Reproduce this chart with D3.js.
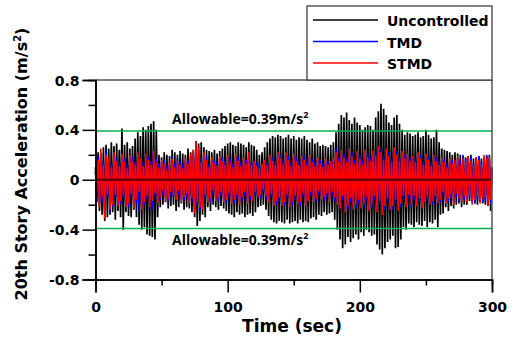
<!DOCTYPE html>
<html>
<head>
<meta charset="utf-8">
<script src="https://cdn.jsdelivr.net/npm/d3@7"></script>
<style>
  body { margin: 0; background: #fff; }
  svg { display: block; }
  .tick text { font-family: "DejaVu Sans", sans-serif; font-weight: bold; font-size: 14px; fill: #000; }
  .title { font-family: "DejaVu Sans", sans-serif; font-weight: bold; fill: #000; }
  .allow { font-family: "Open Sans", sans-serif; font-weight: bold; font-size: 14px; fill: #000; }
</style>
</head>
<body>
<div id="output"></div>
<script>
// peak values, one per second (t = 0..300)
const uncontrolled = [
  0.10,-0.18,0.22,-0.25,0.20,-0.28,0.26,-0.33,0.28,-0.30,0.25,-0.28,0.30,-0.26,0.27,-0.32,0.29,-0.25,0.24,-0.30,
  0.41,-0.40,0.28,-0.26,0.30,-0.29,0.25,-0.30,0.27,-0.24,0.33,-0.30,0.38,-0.36,0.35,-0.40,0.42,-0.38,0.40,-0.44,
  0.43,-0.45,0.45,-0.46,0.47,-0.48,0.40,-0.30,0.20,-0.22,0.18,-0.20,0.22,-0.18,0.20,-0.23,0.19,-0.21,0.24,-0.20,
  0.22,-0.25,0.20,-0.22,0.23,-0.19,0.21,-0.24,0.20,-0.22,0.25,-0.23,0.22,-0.26,0.24,-0.30,0.31,-0.37,0.29,-0.33,
  0.30,-0.28,0.26,-0.30,0.24,-0.22,0.23,-0.25,0.22,-0.20,0.24,-0.22,0.21,-0.24,0.23,-0.21,0.25,-0.23,0.27,-0.25,
  0.29,-0.27,0.30,-0.28,0.28,-0.30,0.27,-0.26,0.30,-0.28,0.29,-0.27,0.28,-0.30,0.26,-0.28,0.30,-0.27,0.28,-0.29,
  0.27,-0.26,0.24,-0.22,0.20,-0.21,0.22,-0.20,0.26,-0.24,0.30,-0.29,0.33,-0.32,0.35,-0.34,0.34,-0.35,0.36,-0.33,
  0.35,-0.34,0.33,-0.35,0.34,-0.32,0.36,-0.35,0.33,-0.34,0.35,-0.33,0.32,-0.35,0.34,-0.32,0.33,-0.34,0.35,-0.33,
  0.32,-0.34,0.30,-0.31,0.33,-0.30,0.29,-0.32,0.30,-0.28,0.27,-0.29,0.28,-0.26,0.27,-0.28,0.26,-0.27,0.28,-0.26,
  0.30,-0.32,0.38,-0.40,0.45,-0.48,0.52,-0.55,0.50,-0.52,0.54,-0.46,0.48,-0.50,0.45,-0.47,0.50,-0.44,0.46,-0.48,
  0.44,-0.42,0.40,-0.45,0.42,-0.40,0.44,-0.42,0.43,-0.45,0.40,-0.44,0.50,-0.52,0.55,-0.56,0.61,-0.60,0.57,-0.55,
  0.52,-0.50,0.46,-0.48,0.44,-0.45,0.50,-0.55,0.52,-0.54,0.45,-0.48,0.40,-0.38,0.36,-0.40,0.38,-0.35,0.37,-0.36,
  0.35,-0.38,0.36,-0.34,0.38,-0.36,0.34,-0.37,0.35,-0.33,0.40,-0.38,0.36,-0.34,0.33,-0.35,0.34,-0.32,0.40,-0.38,
  0.30,-0.28,0.25,-0.27,0.24,-0.22,0.23,-0.25,0.22,-0.21,0.20,-0.23,0.22,-0.20,0.21,-0.19,0.20,-0.22,0.19,-0.20,
  0.18,-0.20,0.19,-0.17,0.20,-0.18,0.17,-0.19,0.18,-0.20,0.19,-0.18,0.17,-0.19,0.18,-0.20,0.19,-0.21,0.20,-0.25,
  0.10
];
const tmd = [
  0.07,-0.13,0.19,-0.20,0.22,-0.18,0.15,-0.28,0.23,-0.15,0.16,-0.26,0.13,-0.22,0.20,-0.15,0.18,-0.19,0.14,-0.20,
  0.19,-0.15,0.17,-0.20,0.13,-0.22,0.18,-0.14,0.19,-0.21,0.15,-0.19,0.20,-0.26,0.15,-0.22,0.14,-0.20,0.19,-0.16,
  0.19,-0.20,0.15,-0.24,0.21,-0.14,0.17,-0.17,0.13,-0.16,0.14,-0.12,0.16,-0.15,0.11,-0.17,0.12,-0.13,0.19,-0.14,
  0.13,-0.14,0.17,-0.12,0.15,-0.16,0.12,-0.17,0.15,-0.14,0.16,-0.17,0.19,-0.18,0.22,-0.25,0.28,-0.21,0.24,-0.25,
  0.17,-0.22,0.20,-0.15,0.19,-0.16,0.13,-0.18,0.16,-0.12,0.16,-0.15,0.14,-0.17,0.17,-0.13,0.18,-0.16,0.15,-0.19,
  0.18,-0.14,0.17,-0.17,0.13,-0.19,0.19,-0.15,0.18,-0.18,0.14,-0.17,0.16,-0.13,0.16,-0.17,0.20,-0.16,0.15,-0.15,
  0.13,-0.13,0.14,-0.12,0.12,-0.15,0.11,-0.11,0.14,-0.16,0.15,-0.16,0.18,-0.14,0.18,-0.19,0.15,-0.20,0.20,-0.17,
  0.20,-0.19,0.16,-0.21,0.20,-0.15,0.19,-0.20,0.14,-0.20,0.19,-0.16,0.18,-0.18,0.15,-0.21,0.17,-0.14,0.19,-0.19,
  0.15,-0.15,0.18,-0.13,0.17,-0.16,0.14,-0.18,0.16,-0.12,0.16,-0.14,0.13,-0.17,0.15,-0.14,0.15,-0.16,0.13,-0.13,
  0.16,-0.17,0.25,-0.18,0.18,-0.21,0.22,-0.16,0.21,-0.24,0.17,-0.24,0.23,-0.18,0.22,-0.22,0.16,-0.23,0.21,-0.19,
  0.20,-0.21,0.15,-0.22,0.22,-0.17,0.21,-0.23,0.18,-0.23,0.21,-0.16,0.22,-0.24,0.25,-0.20,0.25,-0.26,0.19,-0.24,
  0.23,-0.18,0.22,-0.22,0.17,-0.24,0.24,-0.19,0.23,-0.23,0.18,-0.22,0.21,-0.16,0.20,-0.20,0.19,-0.15,0.18,-0.23,
  0.17,-0.16,0.17,-0.19,0.20,-0.18,0.20,-0.21,0.15,-0.16,0.19,-0.17,0.19,-0.18,0.14,-0.20,0.18,-0.16,0.18,-0.17,
  0.15,-0.19,0.16,-0.13,0.17,-0.17,0.13,-0.18,0.15,-0.15,0.16,-0.18,0.14,-0.14,0.17,-0.18,0.15,-0.16,0.20,-0.16,
  0.17,-0.16,0.17,-0.15,0.18,-0.18,0.14,-0.19,0.16,-0.16,0.19,-0.17,0.15,-0.18,0.18,-0.17,0.20,-0.19,0.17,-0.19,
  0.06
];
const stmd = [
  0.06,-0.10,0.16,-0.22,0.25,-0.14,0.12,-0.31,0.20,-0.12,0.18,-0.24,0.10,-0.20,0.22,-0.12,0.15,-0.21,0.11,-0.17,
  0.21,-0.12,0.14,-0.22,0.09,-0.19,0.20,-0.11,0.15,-0.23,0.12,-0.16,0.22,-0.10,0.17,-0.24,0.11,-0.18,0.21,-0.13,
  0.16,-0.22,0.12,-0.17,0.23,-0.11,0.14,-0.19,0.10,-0.14,0.16,-0.09,0.13,-0.17,0.08,-0.15,0.14,-0.10,0.17,-0.12,
  0.10,-0.16,0.15,-0.09,0.12,-0.18,0.09,-0.14,0.17,-0.11,0.13,-0.19,0.21,-0.15,0.24,-0.27,0.31,-0.18,0.26,-0.22,
  0.14,-0.24,0.22,-0.12,0.16,-0.18,0.10,-0.15,0.18,-0.09,0.13,-0.17,0.11,-0.14,0.19,-0.10,0.15,-0.18,0.12,-0.16,
  0.20,-0.11,0.14,-0.19,0.10,-0.16,0.21,-0.12,0.15,-0.20,0.11,-0.14,0.18,-0.10,0.13,-0.19,0.22,-0.13,0.12,-0.17,
  0.15,-0.10,0.11,-0.14,0.09,-0.12,0.13,-0.08,0.16,-0.13,0.12,-0.18,0.20,-0.11,0.15,-0.21,0.12,-0.17,0.22,-0.14,
  0.17,-0.21,0.13,-0.18,0.22,-0.12,0.16,-0.22,0.11,-0.17,0.21,-0.13,0.15,-0.20,0.12,-0.18,0.19,-0.11,0.16,-0.21,
  0.12,-0.17,0.20,-0.10,0.14,-0.18,0.11,-0.15,0.18,-0.09,0.13,-0.16,0.10,-0.14,0.17,-0.11,0.12,-0.18,0.15,-0.10,
  0.18,-0.14,0.22,-0.20,0.15,-0.23,0.24,-0.13,0.18,-0.26,0.14,-0.21,0.25,-0.15,0.19,-0.24,0.13,-0.20,0.23,-0.16,
  0.17,-0.23,0.12,-0.19,0.24,-0.14,0.18,-0.25,0.15,-0.20,0.23,-0.13,0.19,-0.26,0.27,-0.17,0.22,-0.28,0.16,-0.21,
  0.25,-0.15,0.19,-0.24,0.14,-0.21,0.26,-0.16,0.20,-0.25,0.15,-0.19,0.23,-0.13,0.17,-0.22,0.21,-0.12,0.15,-0.20,
  0.19,-0.13,0.14,-0.21,0.22,-0.15,0.17,-0.23,0.12,-0.18,0.21,-0.14,0.16,-0.20,0.11,-0.17,0.20,-0.13,0.15,-0.19,
  0.12,-0.16,0.18,-0.10,0.14,-0.19,0.10,-0.15,0.17,-0.12,0.13,-0.20,0.16,-0.11,0.19,-0.15,0.12,-0.18,0.17,-0.13,
  0.14,-0.18,0.19,-0.12,0.15,-0.20,0.11,-0.16,0.18,-0.13,0.16,-0.19,0.12,-0.15,0.20,-0.14,0.17,-0.21,0.19,-0.16,
  0.05
];
const seriesNames = ['Uncontrolled', 'TMD', 'STMD'];
const seriesColors = ['#000000', '#0000ff', '#ff0000'];
const yMajor = [-0.8, -0.4, 0, 0.4, 0.8];
const yMinor = [-0.6, -0.2, 0.2, 0.6];
const xMajor = [0, 100, 200, 300];
const xMinor = [50, 150, 250];
const allowable = 0.39;

const W = 518, H = 342;
const mLeft = 95.5, mRight = 492, mTop = 80, mBottom = 279.5;

const svg = d3.select('#output').append('svg')
  .attr('width', W).attr('height', H);

const x = d3.scaleLinear().domain([0, 300]).range([mLeft, mRight]);
const y = d3.scaleLinear().domain([-0.8, 0.8]).range([mBottom, mTop]);

const fmtY = d => d === 0 ? '0' : d3.format('.1f')(d).replace('−', '-');

// data lines
const line = d3.line().x((d, i) => x(i)).y(d => y(d));
[uncontrolled, tmd, stmd].forEach((s, k) => {
  svg.append('path')
    .datum(s)
    .attr('d', line)
    .attr('fill', 'none')
    .attr('stroke', seriesColors[k])
    .attr('stroke-width', k === 0 ? 1.7 : 1.5)
    .attr('stroke-linejoin', 'miter');
});

// zero line
svg.append('line')
  .attr('x1', x(0)).attr('x2', x(300))
  .attr('y1', y(0)).attr('y2', y(0))
  .attr('stroke', '#6a0000').attr('stroke-width', 2.5);

// allowable limits
[allowable, -allowable].forEach(v => {
  svg.append('line')
    .attr('x1', x(0)).attr('x2', x(300))
    .attr('y1', y(v)).attr('y2', y(v))
    .attr('stroke', '#00b050').attr('stroke-width', 1.5);
});

[124, 245].forEach(yy => {
  const t = svg.append('text').attr('class', 'allow').attr('x', 172).attr('y', yy);
  t.append('tspan').text('Allowable=0.39m/s');
  t.append('tspan').attr('dy', -6).attr('font-size', 9).text('2');
});

// axes
const yAxis = svg.append('g').attr('transform', `translate(${mLeft},0)`)
  .call(d3.axisLeft(y).tickValues(yMajor).tickSize(13).tickPadding(3).tickFormat(fmtY));
svg.append('g').attr('transform', `translate(${mLeft},0)`)
  .call(d3.axisLeft(y).tickValues(yMinor).tickSize(7).tickFormat(''));
svg.append('g').attr('transform', `translate(0,${mBottom})`)
  .call(d3.axisBottom(x).tickValues(xMajor).tickSize(13).tickPadding(10).tickFormat(d3.format('d')));
svg.append('g').attr('transform', `translate(0,${mBottom})`)
  .call(d3.axisBottom(x).tickValues(xMinor).tickSize(6).tickFormat(''));

svg.selectAll('.domain').attr('stroke', '#000').attr('stroke-width', 1.5);
svg.selectAll('.tick line').attr('stroke', '#000').attr('stroke-width', 1.5);
yAxis.selectAll('.tick text').attr('dy', '0.36em');

// frame top and right
svg.append('line').attr('x1', mLeft).attr('x2', mRight).attr('y1', mTop).attr('y2', mTop)
  .attr('stroke', '#000').attr('stroke-width', 1.2);
svg.append('line').attr('x1', mRight).attr('x2', mRight).attr('y1', mTop).attr('y2', mBottom)
  .attr('stroke', '#555').attr('stroke-width', 1.5);

// titles
svg.append('text').attr('class', 'title')
  .attr('x', 292).attr('y', 332)
  .attr('text-anchor', 'middle').attr('font-size', 17)
  .text('Time (sec)');

const yt = svg.append('text').attr('class', 'title')
  .attr('transform', 'translate(27,164) rotate(-90)')
  .attr('text-anchor', 'middle').attr('font-size', 16);
yt.append('tspan').text('20th Story Acceleration (m/s');
yt.append('tspan').attr('dy', -6).attr('font-size', 10).text('2');
yt.append('tspan').attr('dy', 6).text(')');

// legend
const lg = svg.append('g');
lg.append('rect')
  .attr('x', 307).attr('y', 6).attr('width', 185).attr('height', 74)
  .attr('fill', '#fff').attr('stroke', '#333').attr('stroke-width', 1.2);
seriesNames.forEach((n, i) => {
  const yy = 20 + i * 21.5;
  lg.append('line').attr('x1', 313).attr('x2', 378).attr('y1', yy).attr('y2', yy)
    .attr('stroke', seriesColors[i]).attr('stroke-width', 1.5);
  lg.append('text').attr('class', 'title').attr('font-size', 14)
    .attr('x', 387).attr('y', yy + 6).text(n);
});
</script>
</body>
</html>
